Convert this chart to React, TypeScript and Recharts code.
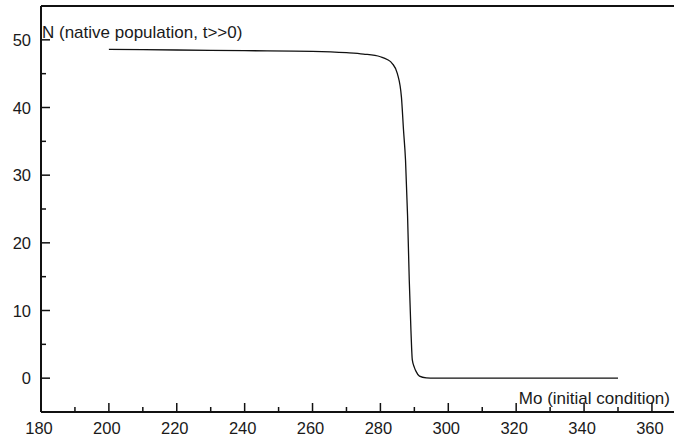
import React from "react";
import { LineChart, Line, XAxis, YAxis, ReferenceLine, Label } from "recharts";

// initial condition Mo vs. long-time native population N
const moValues = [
  200, 220, 240, 260, 270, 275, 280, 282, 283.5, 285, 286.2, 286.8, 287.4, 288,
  288.5, 289, 289.4, 290, 290.5, 291.5, 293.5, 296, 300, 320, 350,
];
const nValues = [
  48.6, 48.5, 48.4, 48.3, 48.1, 47.9, 47.5, 47.1, 46.5, 45.0, 41.5, 36.7, 32.2, 24,
  14.5, 7, 2.7, 1.6, 1.0, 0.3, 0.05, 0, 0, 0, 0,
];
const xTicks = [180, 190, 200, 210, 220, 230, 240, 250, 260, 270, 280, 290, 300, 310, 320, 330, 340, 350, 360];
const yTicks = [0, 5, 10, 15, 20, 25, 30, 35, 40, 45, 50];

const data = moValues.map((x, i) => ({ x, N: nValues[i] }));

const INK = "#111";
const FONT = "'Liberation Sans', Arial, sans-serif";

const XTick = ({ x, y, payload }: any) => {
  const major = payload.value % 20 === 0;
  return (
    <g>
      <line x1={x} y1={y} x2={x} y2={y - (major ? 9 : 5)} stroke={INK} strokeWidth={1.5} />
      {major && (
        <text x={x - 2} y={y + 22} textAnchor="middle" fontSize={16.5} fill="#1a1a1a" fontFamily={FONT}>
          {payload.value}
        </text>
      )}
    </g>
  );
};

const YTick = ({ x, y, payload }: any) => {
  const major = payload.value % 10 === 0;
  return (
    <g>
      <line x1={x} y1={y} x2={x + (major ? 9 : 5)} y2={y} stroke={INK} strokeWidth={1.5} />
      {major && (
        <text x={x - 10} y={y + 6} textAnchor="end" fontSize={16.5} fill="#1a1a1a" fontFamily={FONT}>
          {payload.value}
        </text>
      )}
    </g>
  );
};

export default function App() {
  return (
    <div style={{ position: "absolute", left: 0, top: 0, width: 675, height: 440, background: "#fff" }}>
      <LineChart width={675} height={440} data={data} margin={{ top: 6, right: 1, bottom: 0, left: 0 }}>
        <XAxis
          type="number"
          dataKey="x"
          domain={[180, 366.5]}
          allowDataOverflow
          ticks={xTicks}
          interval={0}
          height={28}
          tickSize={0}
          tickMargin={0}
          tickLine={false}
          tick={<XTick />}
          axisLine={{ stroke: INK, strokeWidth: 2 }}
        >
          <Label
            content={({ viewBox }: any) => (
              <text
                x={viewBox.x + viewBox.width - 4}
                y={viewBox.y - 8}
                textAnchor="end"
                fontSize={17}
                fill="#1a1a1a"
                fontFamily={FONT}
              >
                Mo (initial condition)
              </text>
            )}
          />
        </XAxis>
        <YAxis
          type="number"
          domain={[-5, 55]}
          allowDataOverflow
          ticks={yTicks}
          interval={0}
          width={41}
          tickSize={0}
          tickMargin={0}
          tickLine={false}
          tick={<YTick />}
          axisLine={{ stroke: INK, strokeWidth: 2 }}
        >
          <Label
            content={({ viewBox }: any) => (
              <text x={viewBox.x + viewBox.width + 1} y={viewBox.y + 32} fontSize={17} fill="#1a1a1a" fontFamily={FONT}>
                N (native population, t&gt;&gt;0)
              </text>
            )}
          />
        </YAxis>
        <ReferenceLine y={55} stroke={INK} strokeWidth={2} ifOverflow="visible" />
        <Line
          type="monotone"
          dataKey="N"
          stroke={INK}
          strokeWidth={1.3}
          dot={false}
          isAnimationActive={false}
        />
      </LineChart>
    </div>
  );
}
